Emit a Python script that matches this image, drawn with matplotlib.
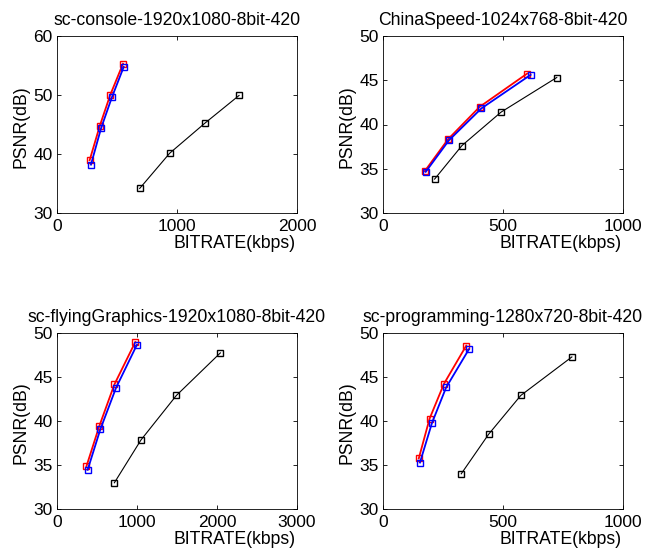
import matplotlib
matplotlib.use('Agg')
from matplotlib import pyplot as plt

plt.rcParams['font.family'] = ['Liberation Sans', 'DejaVu Sans']

# 每个子图的标题
titles = ['sc-console-1920x1080-8bit-420',
          'ChinaSpeed-1024x768-8bit-420',
          'sc-flyingGraphics-1920x1080-8bit-420',
          'sc-programming-1280x720-8bit-420']

# 码率 (kbps)
red_rate = [[272, 356, 444, 550], [174, 271, 403, 601],
            [367, 529, 717, 979], [149, 194, 254, 347]]
blue_rate = [[283, 367, 458, 556], [178, 275, 410, 615],
             [383, 542, 738, 1000], [154, 204, 263, 358]]
black_rate = [[689, 939, 1231, 1517], [215, 329, 492, 724],
              [717, 1050, 1492, 2042], [326, 440, 574, 787]]

# PSNR (dB)
red_psnr = [[38.95, 44.74, 50.03, 55.3], [34.73, 38.33, 42.0, 45.76],
            [34.83, 39.43, 44.15, 48.98], [35.74, 40.26, 44.23, 48.57]]
blue_psnr = [[38.2, 44.35, 49.64, 54.76], [34.65, 38.22, 41.82, 45.61],
             [34.45, 39.06, 43.77, 48.68], [35.28, 39.77, 43.81, 48.15]]
black_psnr = [[34.16, 40.13, 45.2, 49.92], [33.83, 37.62, 41.4, 45.31],
              [32.98, 37.85, 42.9, 47.74], [34.0, 38.49, 42.9, 47.28]]

# 坐标轴范围和刻度
xlims = [(0, 2000), (0, 1000), (0, 3000), (0, 1000)]
xticks = [[0, 1000, 2000], [0, 500, 1000], [0, 1000, 2000, 3000], [0, 500, 1000]]
ylims = [(30, 60), (30, 50), (30, 50), (30, 50)]
yticks = [[30, 40, 50, 60], [30, 35, 40, 45, 50], [30, 35, 40, 45, 50], [30, 35, 40, 45, 50]]

W, H = 656, 552
fig = plt.figure(figsize=(W / 100, H / 100), dpi=100)

# 每个子图的像素位置 (left, top, right, bottom)
boxes = [(57, 36, 297, 213), (383, 36, 623, 213),
         (57, 333, 297, 509), (383, 333, 623, 509)]

for i in range(4):
    l, t, r, b = boxes[i]
    ax = fig.add_axes([l / W, 1 - b / H, (r - l) / W, (b - t) / H])

    ax.plot(red_rate[i], red_psnr[i], color='red', marker='s', markersize=5,
            markerfacecolor='none', linewidth=1.3)
    ax.plot(blue_rate[i], blue_psnr[i], color='blue', marker='s', markersize=5,
            markerfacecolor='none', linewidth=1.3)
    ax.plot(black_rate[i], black_psnr[i], color='black', marker='s', markersize=4.5,
            markerfacecolor='none', linewidth=0.8)

    ax.set_xlim(*xlims[i])
    ax.set_ylim(*ylims[i])
    ax.set_xticks(xticks[i])
    ax.set_yticks(yticks[i])
    ax.tick_params(direction='in', top=True, right=True, length=3, width=0.6,
                   labelsize=12.5)
    ax.tick_params(axis='x', pad=4)
    ax.tick_params(axis='y', pad=3)
    for s in ax.spines.values():
        s.set_linewidth(0.6)

    ax.set_title(titles[i], fontsize=12.7, pad=8)
    ax.set_xlabel('BITRATE(kbps)', fontsize=12.7)
    ax.set_ylabel('PSNR(dB)', fontsize=12.7)
    ax.xaxis.label.set_ha('right')
    ax.xaxis.label.set_va('center')
    ax.xaxis.set_label_coords(0.995, -0.175)
    ax.yaxis.label.set_va('center')
    ax.yaxis.set_label_coords(-0.15, 0.49)

plt.savefig('out.png', dpi=100)
